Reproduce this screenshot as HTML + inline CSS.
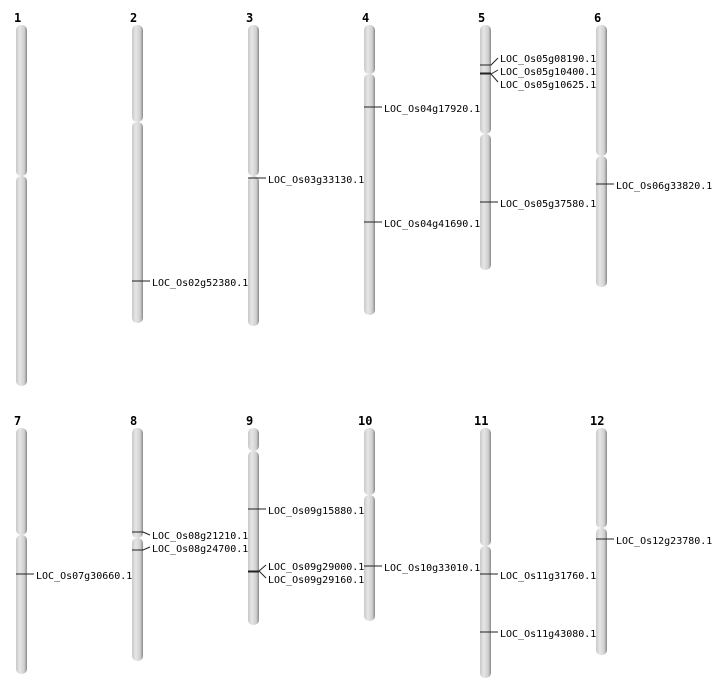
<!DOCTYPE html>
<html><head><meta charset="utf-8"><style>
html,body{margin:0;padding:0;background:#fff;width:712px;height:700px;overflow:hidden}
text{font-family:"DejaVu Sans Mono","Liberation Mono",monospace}
.t{font-size:12px;font-weight:bold}
.l{font-size:10px}
</style></head><body>
<svg width="712" height="700" xmlns="http://www.w3.org/2000/svg">
<defs>
<linearGradient id="g" x1="0" x2="1" y1="0" y2="0">
<stop offset="0" stop-color="#c8c8c8"/><stop offset="0.35" stop-color="#e6e6e6"/><stop offset="0.75" stop-color="#cfcfcf"/><stop offset="1" stop-color="#8a8a8a"/>
</linearGradient>
</defs>
<g fill="url(#g)">
<!-- row1 -->
<rect x="16" y="25" width="11" height="151" rx="5"/><rect x="16" y="176" width="11" height="210" rx="5"/>
<rect x="132" y="25" width="11" height="97" rx="5"/><rect x="132" y="122" width="11" height="201" rx="5"/>
<rect x="248" y="25" width="11" height="151" rx="5"/><rect x="248" y="176" width="11" height="150" rx="5"/>
<rect x="364" y="25" width="11" height="49" rx="5"/><rect x="364" y="74" width="11" height="241" rx="5"/>
<rect x="480" y="25" width="11" height="109" rx="5"/><rect x="480" y="134" width="11" height="136" rx="5"/>
<rect x="596" y="25" width="11" height="131" rx="5"/><rect x="596" y="156" width="11" height="131" rx="5"/>
<!-- row2 -->
<rect x="16" y="428" width="11" height="107" rx="5"/><rect x="16" y="535" width="11" height="139" rx="5"/>
<rect x="132" y="428" width="11" height="110" rx="5"/><rect x="132" y="538" width="11" height="123" rx="5"/>
<rect x="248" y="428" width="11" height="23" rx="5"/><rect x="248" y="451" width="11" height="174" rx="5"/>
<rect x="364" y="428" width="11" height="67" rx="5"/><rect x="364" y="495" width="11" height="126" rx="5"/>
<rect x="480" y="428" width="11" height="118" rx="5"/><rect x="480" y="546" width="11" height="132" rx="5"/>
<rect x="596" y="428" width="11" height="100" rx="5"/><rect x="596" y="528" width="11" height="127" rx="5"/>
</g>
<g class="t">
<text x="14" y="22">1</text><text x="130" y="22">2</text><text x="246" y="22">3</text><text x="362" y="22">4</text><text x="478" y="22">5</text><text x="594" y="22">6</text>
<text x="14" y="425">7</text><text x="130" y="425">8</text><text x="246" y="425">9</text><text x="358" y="425">10</text><text x="474" y="425">11</text><text x="590" y="425">12</text>
</g>
<g stroke="#222" stroke-width="1" fill="none">
<path d="M132 281H150"/>
<path d="M248 178H266"/>
<path d="M364 107H382M364 222H382"/>
<path d="M480 65H491L498 58M480 74H491L498 70M480 74H491L498 82"/>
<path d="M480 73H491"/>
<path d="M480 202H498"/>
<path d="M596 184H614"/>
<path d="M16 574H34"/>
<path d="M132 532H143L150 535M132 550H143L150 547"/>
<path d="M248 509H266"/>
<path d="M248 571H259L266 565M248 571H259L266 578M248 572H259"/>
<path d="M364 566H382"/>
<path d="M480 574H498M480 632H498"/>
<path d="M596 539H614"/>
</g>
<g class="l" fill="#000">
<text x="152" y="286">LOC_Os02g52380.1</text>
<text x="268" y="183">LOC_Os03g33130.1</text>
<text x="384" y="112">LOC_Os04g17920.1</text>
<text x="384" y="227">LOC_Os04g41690.1</text>
<text x="500" y="62">LOC_Os05g08190.1</text>
<text x="500" y="75">LOC_Os05g10400.1</text>
<text x="500" y="88">LOC_Os05g10625.1</text>
<text x="500" y="207">LOC_Os05g37580.1</text>
<text x="616" y="189">LOC_Os06g33820.1</text>
<text x="36" y="579">LOC_Os07g30660.1</text>
<text x="152" y="539">LOC_Os08g21210.1</text>
<text x="152" y="552">LOC_Os08g24700.1</text>
<text x="268" y="514">LOC_Os09g15880.1</text>
<text x="268" y="570">LOC_Os09g29000.1</text>
<text x="268" y="583">LOC_Os09g29160.1</text>
<text x="384" y="571">LOC_Os10g33010.1</text>
<text x="500" y="579">LOC_Os11g31760.1</text>
<text x="500" y="637">LOC_Os11g43080.1</text>
<text x="616" y="544">LOC_Os12g23780.1</text>
</g>
</svg>
</body></html>
